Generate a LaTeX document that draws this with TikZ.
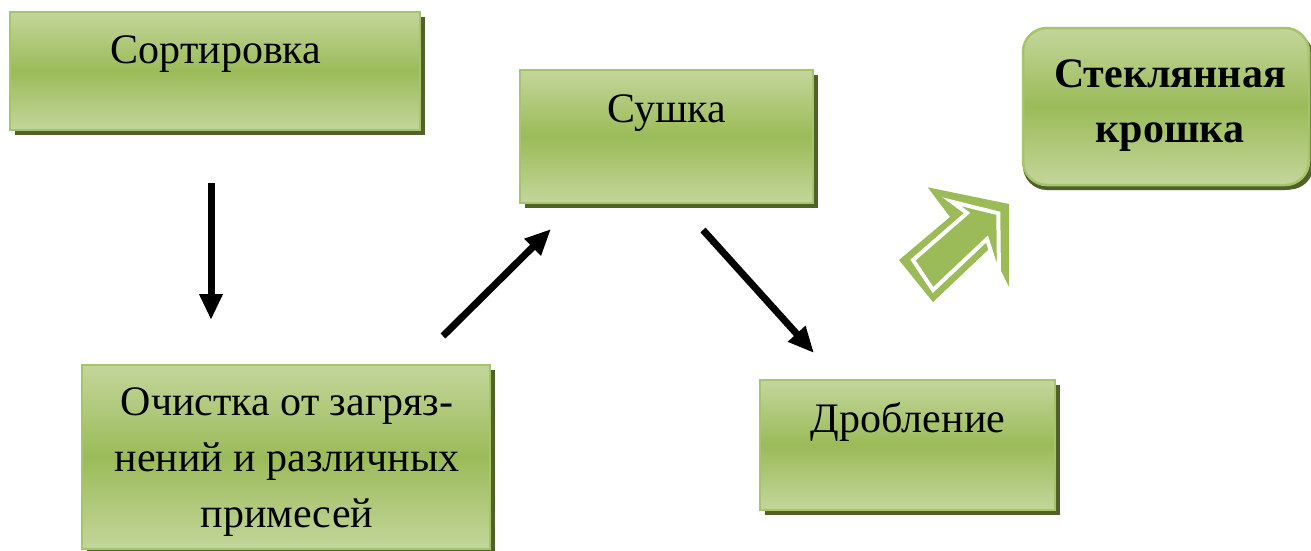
\documentclass[tikz,border=0pt]{standalone}
\usepackage{fontspec}
\setmainfont{Liberation Serif}
\usetikzlibrary{arrows.meta,shadows}
\definecolor{gLight}{HTML}{C3D69B}
\definecolor{gMid}{HTML}{9BBB59}
\definecolor{gBorder}{HTML}{A6C46A}
\definecolor{gShadow}{HTML}{4F6228}
\begin{document}
\begin{tikzpicture}[x=1pt,y=-1pt,
  box/.style={rectangle,draw=gBorder,line width=2.5pt,
    top color=gLight,bottom color=gLight,middle color=gMid,
    general shadow={fill=gShadow,shadow xshift=4.5pt,shadow yshift=-4.5pt},
    inner sep=0pt},
  lbl/.style={font=\fontsize{42}{56}\selectfont,align=center,anchor=base,inner sep=0pt},
  flow/.style={line width=7pt,-{Triangle[length=26pt,width=22pt]}}]
\useasboundingbox (0,0) rectangle (1311,550);
\fill[white] (0,0) rectangle (1311,550);
% boxes
\node[box,minimum width=410pt,minimum height=118pt] (sort) at (215,71) {};
\node[box,minimum width=293pt,minimum height=133pt] (dry) at (666.5,136.5) {};
\node[box,minimum width=408pt,minimum height=184pt] (clean) at (286,457) {};
\node[box,minimum width=295pt,minimum height=130pt] (crush) at (907.5,445) {};
\node[box,rounded corners=24pt,minimum width=286pt,minimum height=157pt,
  general shadow={fill=gShadow,shadow xshift=0pt,shadow yshift=-5pt}] (glass) at (1166,106.5) {};
% texts
\node[lbl] (tsort) at (216,63) {Сортировка};
\node[lbl] (tdry) at (667,122) {Сушка};
\node[lbl] (tclean) at (287,527) {Очистка от загряз-\\нений и различных\\примесей};
\node[lbl] (tcrush) at (908,432) {Дробление};
\node[lbl,font=\fontsize{42}{55}\selectfont\bfseries] (tglass) at (1170,142) {Стеклянная\\крошка};
% arrow coordinates
\coordinate (a1s) at (211,183);
\coordinate (a1e) at (211,320);
\coordinate (a2s) at (443,336);
\coordinate (a2e) at (551,229);
\coordinate (a3s) at (703,230);
\coordinate (a3e) at (814,353);
\draw[flow] (a1s) -- (a1e);
\draw[flow] (a2s) -- (a2e);
\draw[flow] (a3s) -- (a3e);
% block arrow
\fill[gMid] (927.7,187.3) -- (1009,204) -- (1009,287) -- (990,248) -- (933,302)
  -- (899,260) -- (950,217) -- cycle;
\filldraw[draw=white,line width=4pt,fill=gMid] (951.7,201.7) -- (998.3,213.3) -- (999,277)
  -- (987,239) -- (933,290) -- (913,260) -- (967,213) -- cycle;
\end{tikzpicture}
\end{document}
